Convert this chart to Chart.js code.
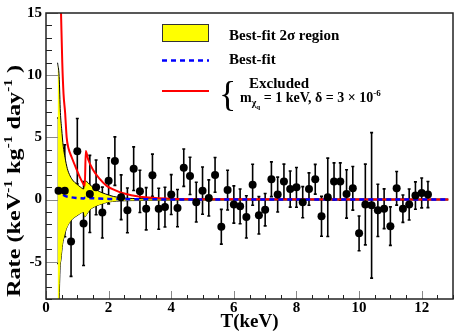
<!DOCTYPE html>
<html>
<head>
<meta charset="utf-8">
<script src="https://cdn.jsdelivr.net/npm/chart.js@4.4.1/dist/chart.umd.min.js"></script>
<style>
  html, body { margin: 0; padding: 0; background: #fff; }
  #wrap { width: 463px; height: 333px; position: relative; }
</style>
</head>
<body>
<div id="wrap"><canvas id="c"></canvas></div>
<script>
// ──────────────────────────────────────────────────────────────
// Data
// ──────────────────────────────────────────────────────────────
const energy = [
  0.4, 0.6, 0.8, 1.0, 1.2, 1.4, 1.6, 1.8, 2.0, 2.2,
  2.4, 2.6, 2.8, 3.0, 3.2, 3.4, 3.6, 3.8, 4.0, 4.2,
  4.4, 4.6, 4.8, 5.0, 5.2, 5.4, 5.6, 5.8, 6.0, 6.2,
  6.4, 6.6, 6.8, 7.0, 7.2, 7.4, 7.6, 7.8, 8.0, 8.2,
  8.4, 8.6, 8.8, 9.0, 9.2, 9.4, 9.6, 9.8, 10.0, 10.2,
  10.4, 10.6, 10.8, 11.0, 11.2, 11.4, 11.6, 11.8, 12.0, 12.2,
];
const rate = [
  0.71, 0.71, -3.38, 3.88, -1.93, 0.45, 0.98, -1.05, 1.5, 3.09,
  0.18, -0.87, 2.48, 0.66, -0.74, 1.95, -0.74, -0.61, 0.4, -0.69,
  2.56, 1.9, -0.21, 0.71, 0.13, 1.98, -2.19, 0.76, -0.4, -0.55,
  -1.4, 1.19, -1.27, -0.82, 1.63, 0.4, 1.45, 0.84, 0.98, -0.21,
  0.84, 1.63, -1.35, 0.18, 1.45, 1.45, 0.45, 0.9, -2.72, -0.4,
  -0.47, -0.87, -0.74, -2.14, 0.9, -0.74, -0.4, 0.32, 0.53, 0.4,
];
const rateErr = [
  5.85, 3.7, 2.8, 2.63, 3.37, 3.1, 2.2, 2.05, 1.85, 1.95,
  1.8, 1.8, 1.75, 1.7, 1.7, 1.7, 1.65, 1.6, 1.6, 1.5,
  1.5, 1.5, 1.6, 1.9, 1.45, 1.4, 1.4, 1.6, 1.5, 1.4,
  1.7, 1.65, 1.5, 1.3, 1.4, 1.4, 1.4, 1.45, 1.6, 1.25,
  1.3, 1.2, 1.6, 3.15, 1.5, 1.5, 1.95, 1.75, 1.4, 3.25,
  5.85, 2.1, 1.6, 1.55, 1.35, 1.1, 1.25, 1.1, 1.2, 1.05,
];

// best-fit curve
const fitX = [0.35, 0.4, 0.5, 0.6, 0.8, 1.0, 1.2, 1.25, 1.3, 1.5, 2.0, 3.0, 4.0, 12.85];
const fitY = [0.9, 0.8, 0.45, 0.3, 0.18, 0.12, 0.08, 0.15, 0.14, 0.1, 0.05, 0.02, 0.01, 0.0];

// 2 sigma band edges
const bandHiX = [0.37, 0.42, 0.46, 0.5, 0.55, 0.61, 0.68, 0.77, 0.87, 0.98, 1.1, 1.2, 1.24, 1.3, 1.4, 1.5, 1.7, 1.9, 2.15, 2.5, 3.0, 4.0, 6.0, 12.85];
const bandHiY = [11.0, 9.9, 7.0, 5.7, 4.3, 3.35, 2.5, 1.9, 1.5, 1.25, 1.0, 0.85, 1.5, 1.45, 1.2, 0.98, 0.65, 0.45, 0.25, 0.12, 0.07, 0.05, 0.04, 0.04];
const bandLoX = [0.37, 0.42, 0.45, 0.48, 0.53, 0.59, 0.66, 0.74, 0.85, 0.96, 1.08, 1.2, 1.24, 1.3, 1.4, 1.5, 1.7, 2.0, 2.5, 3.0, 4.0, 12.85];
const bandLoY = [-9, -8, -5.5, -4.8, -3.6, -2.9, -2.3, -1.9, -1.55, -1.35, -1.15, -1.0, -1.4, -1.2, -0.85, -0.65, -0.42, -0.2, -0.1, -0.08, -0.05, -0.04];

// excluded model (m = 1 keV, delta = 3e-6)
const exclX = [0.46, 0.48, 0.52, 0.56, 0.61, 0.66, 0.72, 0.82, 0.98, 1.08, 1.18, 1.24, 1.27, 1.35, 1.5, 1.7, 1.94, 2.2, 2.47, 3.0, 3.5, 4.0, 5.0, 6.0, 12.85];
const exclY = [17, 15, 11, 8.5, 7.0, 5.0, 4.1, 3.4, 2.4, 1.8, 1.3, 1.1, 3.9, 3.2, 2.4, 1.7, 1.1, 0.75, 0.5, 0.22, 0.12, 0.07, 0.03, 0.02, 0.0];

const xTickStep = 2;
const yTickStep = 5;

// ──────────────────────────────────────────────────────────────
// Helpers
// ──────────────────────────────────────────────────────────────
const SERIF = "'Liberation Serif', 'Times New Roman', serif";
const zip = (xs, ys) => xs.map((x, i) => ({ x, y: ys[i] }));

const points = zip(energy, rate);

// error bars, drawn under the band like in the original
const errorBars = {
  id: "errorBars",
  beforeDatasetsDraw(chart) {
    const { ctx, chartArea: a, scales: { x, y } } = chart;
    ctx.save();
    ctx.beginPath();
    ctx.rect(a.left, a.top, a.right - a.left, a.bottom - a.top);
    ctx.clip();
    ctx.strokeStyle = "#000";
    ctx.lineWidth = 1.6;
    energy.forEach((e, i) => {
      const px = x.getPixelForValue(e);
      const top = y.getPixelForValue(rate[i] + rateErr[i]);
      const bot = y.getPixelForValue(rate[i] - rateErr[i]);
      ctx.beginPath();
      ctx.moveTo(px, top);
      ctx.lineTo(px, bot);
      ctx.moveTo(px - 1.5, top);
      ctx.lineTo(px + 1.5, top);
      ctx.moveTo(px - 1.5, bot);
      ctx.lineTo(px + 1.5, bot);
      ctx.stroke();
    });
    ctx.restore();
  },
};

function drawRich(ctx, parts, x, y) {
  // parts: [text, font, dy]
  let cx = x;
  for (const [t, f, dy] of parts) {
    ctx.font = f;
    ctx.fillText(t, cx, y + dy);
    cx += ctx.measureText(t).width;
  }
  return cx - x;
}

function measureRich(ctx, parts) {
  let w = 0;
  for (const [t, f] of parts) {
    ctx.font = f;
    w += ctx.measureText(t).width;
  }
  return w;
}

const decorations = {
  id: "decorations",
  afterDatasetsDraw(chart) {
    const { ctx, chartArea: a, scales: { x, y } } = chart;
    ctx.save();

    // inner tick marks
    ctx.lineWidth = 1;
    for (let v = 0; v <= 13; v += 0.5) {
      const px = Math.round(x.getPixelForValue(v)) + 0.5;
      const major = v % xTickStep === 0;
      ctx.strokeStyle = major ? "#888" : "#222";
      ctx.beginPath();
      ctx.moveTo(px, a.bottom);
      ctx.lineTo(px, a.bottom - (major ? 8 : 4));
      ctx.stroke();
    }
    for (let v = -8; v <= 15; v += 1) {
      const py = Math.round(y.getPixelForValue(v)) + 0.5;
      const major = v % yTickStep === 0;
      ctx.strokeStyle = major ? "#888" : "#222";
      ctx.beginPath();
      ctx.moveTo(a.left, py);
      ctx.lineTo(a.left + (major ? 12 : 6), py);
      ctx.stroke();
    }

    // frame
    ctx.strokeStyle = "#222";
    ctx.lineWidth = 1.5;
    ctx.strokeRect(a.left, a.top, a.right - a.left, a.bottom - a.top);

    // legend
    ctx.fillStyle = "#ffff00";
    ctx.fillRect(162, 24, 47, 18);
    ctx.strokeStyle = "#333";
    ctx.lineWidth = 1;
    ctx.strokeRect(162.5, 24.5, 46, 17);

    ctx.strokeStyle = "#0000ff";
    ctx.lineWidth = 2.5;
    ctx.setLineDash([5, 4]);
    ctx.beginPath();
    ctx.moveTo(162, 60.5);
    ctx.lineTo(209, 60.5);
    ctx.stroke();
    ctx.setLineDash([]);

    ctx.strokeStyle = "#ff0000";
    ctx.lineWidth = 2;
    ctx.beginPath();
    ctx.moveTo(162, 91);
    ctx.lineTo(209, 91);
    ctx.stroke();

    ctx.fillStyle = "#000";
    ctx.textBaseline = "alphabetic";
    ctx.textAlign = "left";
    const lf = "bold 15px " + SERIF;
    ctx.font = lf;
    ctx.fillText("Best-fit 2σ region", 229, 39.5);
    ctx.fillText("Best-fit", 229, 64);
    ctx.fillText("Excluded", 249, 88);

    ctx.font = "36px " + SERIF;
    ctx.fillText("{", 219, 106);

    const mf = "bold 14px " + SERIF;
    drawRich(ctx, [
      ["m", mf, 0],
      ["χ", "bold 10px " + SERIF, 4],
      ["q", "bold 7px " + SERIF, 7],
      [" = 1 keV, δ = 3 × 10", mf, 0],
      ["-6", "bold 9px " + SERIF, -6],
    ], 240, 102);

    // y axis title, rotated and stretched along its length
    const tf = "bold 19px " + SERIF;
    const sf = "bold 12px " + SERIF;
    const title = [
      ["Rate (keV", tf, 0], ["-1", sf, -8],
      [" kg", tf, 0], ["-1", sf, -8],
      [" day", tf, 0], ["-1", sf, -8],
      [" )", tf, 0],
    ];
    const tw = measureRich(ctx, title);
    const stretch = 232 / tw;
    ctx.translate(20, 181);
    ctx.rotate(-Math.PI / 2);
    ctx.scale(stretch, 1);
    drawRich(ctx, title, -tw / 2, 0);

    ctx.restore();
  },
};

// ──────────────────────────────────────────────────────────────
// Chart
// ──────────────────────────────────────────────────────────────
const tickFont = { family: SERIF, size: 15, weight: "bold" };

new Chart(document.getElementById("c"), {
  type: "scatter",
  data: {
    datasets: [
      {
        label: "Data",
        data: points,
        pointRadius: 4,
        pointHoverRadius: 4,
        backgroundColor: "#000",
        borderWidth: 0,
        showLine: false,
      },
      {
        label: "Best-fit",
        data: zip(fitX, fitY),
        showLine: true,
        borderColor: "#0000ff",
        borderWidth: 2.5,
        borderDash: [5, 4],
        pointRadius: 0,
        cubicInterpolationMode: "monotone",
      },
      {
        label: "Excluded",
        data: zip(exclX, exclY),
        showLine: true,
        borderColor: "#ff0000",
        borderWidth: 2,
        pointRadius: 0,
        cubicInterpolationMode: "monotone",
      },
      {
        label: "Best-fit 2σ region",
        data: zip(bandHiX, bandHiY),
        showLine: true,
        borderColor: "#000",
        borderWidth: 1,
        backgroundColor: "#ffff00",
        fill: "+1",
        pointRadius: 0,
        cubicInterpolationMode: "monotone",
      },
      {
        label: "band low",
        data: zip(bandLoX, bandLoY),
        showLine: true,
        borderColor: "#000",
        borderWidth: 1,
        pointRadius: 0,
        fill: false,
        cubicInterpolationMode: "monotone",
      },
    ],
  },
  options: {
    responsive: true,
    maintainAspectRatio: false,
    animation: false,
    events: [],
    layout: { padding: { top: 9, right: 10, left: 0, bottom: 0 } },
    plugins: {
      legend: { display: false },
      tooltip: { enabled: false },
    },
    scales: {
      x: {
        type: "linear",
        min: 0,
        max: 13,
        afterFit(s) { s.height = 34; },
        grid: { display: false, drawTicks: false },
        border: { display: false },
        ticks: {
          stepSize: xTickStep,
          includeBounds: false,
          color: "#000",
          font: tickFont,
          padding: 0,
          maxRotation: 0,
        },
        title: {
          display: true,
          text: "T(keV)",
          color: "#000",
          font: { family: SERIF, size: 19, weight: "bold" },
          padding: { top: 0, bottom: 0 },
        },
      },
      y: {
        min: -8,
        max: 15,
        afterFit(s) { s.width = 46; },
        grid: { display: false, drawTicks: false },
        border: { display: false },
        ticks: {
          stepSize: yTickStep,
          includeBounds: false,
          color: "#000",
          font: tickFont,
          padding: 4,
        },
      },
    },
  },
  plugins: [errorBars, decorations],
});
</script>
</body>
</html>
